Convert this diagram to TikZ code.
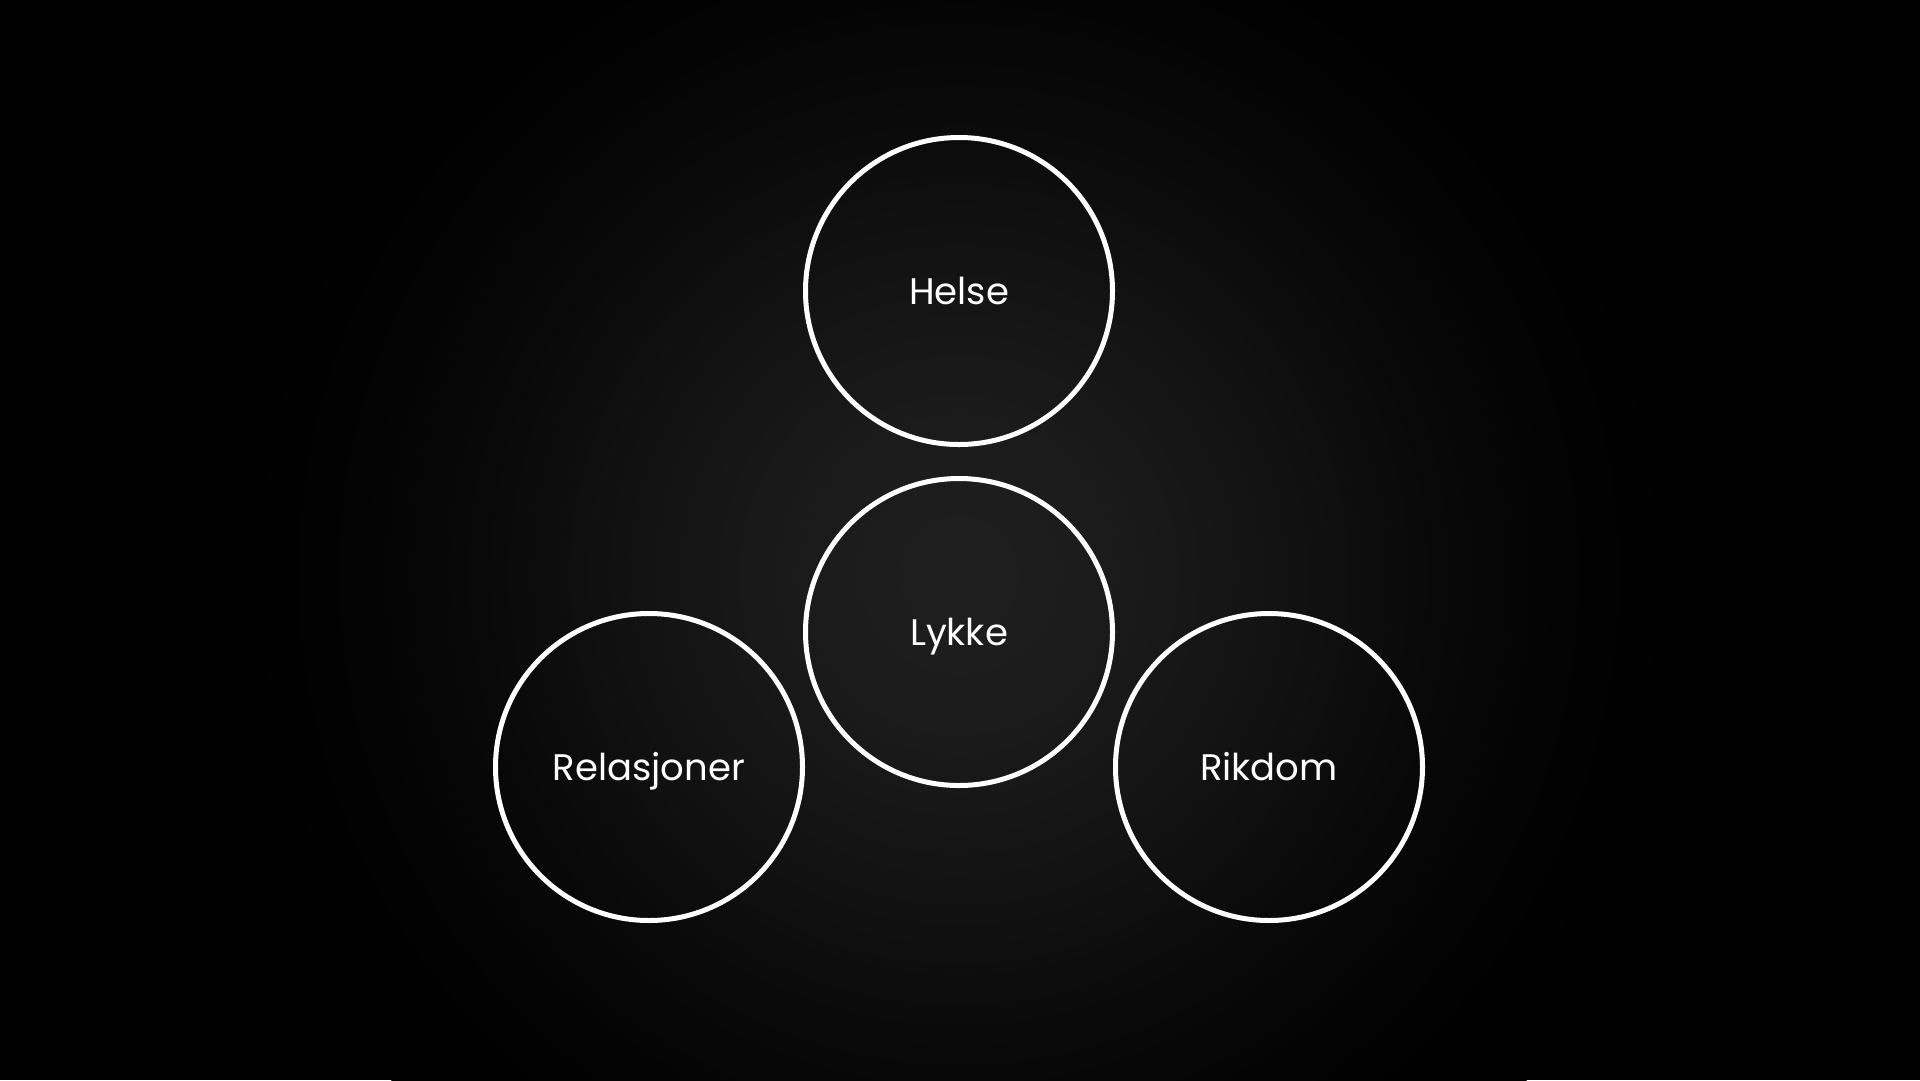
\documentclass[tikz,border=0pt]{standalone}
\usepackage{fontspec}
\setmainfont{Poppins}
\usetikzlibrary{positioning}
\definecolor{glow}{HTML}{1E1E1E}
\tikzset{
  area/.style={circle,draw=white,line width=5pt,minimum size=307pt,inner sep=0pt,
    text=white,font=\fontsize{37}{44}\selectfont,text height=27pt,text depth=0pt}
}
\begin{document}
\begin{tikzpicture}[x=1pt,y=-1pt]
\useasboundingbox (0,0) rectangle (1920,1080);
\fill[black] (0,0) rectangle (1920,1080);
% soft glow behind the circles
\begin{scope}
\clip (0,0) rectangle (1920,1080);
\foreach \r in {760,750,...,10} {
  \pgfmathsetmacro\t{\r/760}
  \pgfmathsetmacro\p{100*(1-(3*\t*\t-2*\t*\t*\t))}
  \fill[glow!\p!black] (959,575) circle[radius=\r];
}
\end{scope}
\node[area] (lykke) at (959,632) {Lykke};
\node[area,above=29pt of lykke] (helse) {Helse};
\node[area] (relasjoner) at (649,767) {Relasjoner};
\node[area] (rikdom) at (1269,767) {Rikdom};
\end{tikzpicture}
\end{document}
